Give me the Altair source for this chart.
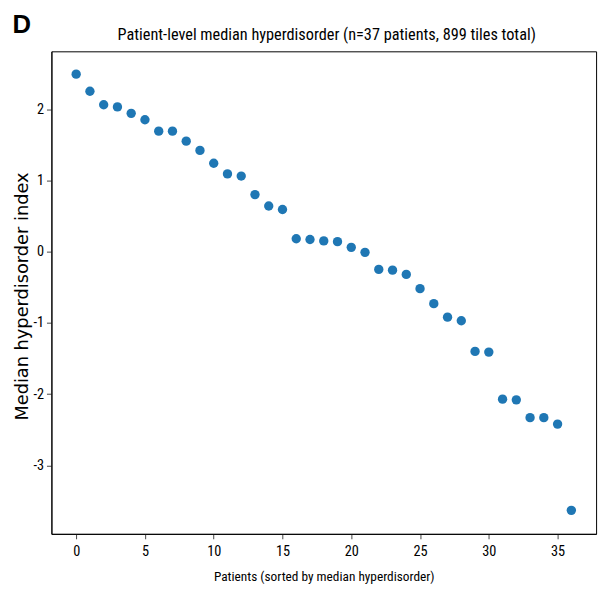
import altair as alt
import pandas as pd

patient_rank = list(range(37))
median_hyperdisorder = [
    2.49, 2.25, 2.06, 2.03, 1.94, 1.85, 1.69, 1.69, 1.55, 1.42,
    1.24, 1.09, 1.06, 0.80, 0.64, 0.59, 0.18, 0.17, 0.15, 0.14,
    0.06, -0.01, -0.25, -0.26, -0.32, -0.52, -0.73, -0.92, -0.97, -1.40,
    -1.41, -2.07, -2.08, -2.33, -2.33, -2.42, -3.63,
]
x_ticks = [0, 5, 10, 15, 20, 25, 30, 35]
y_ticks = [-3, -2, -1, 0, 1, 2]
title_text = "Patient-level median hyperdisorder (n=37 patients, 899 tiles total)"
x_title = "Patients (sorted by median hyperdisorder)"
y_title = "Median hyperdisorder index"
panel_label = "D"

df = pd.DataFrame({"rank": patient_rank, "value": median_hyperdisorder})

cond_font = "Roboto Condensed"

points = alt.Chart(df).mark_circle(size=90, opacity=1, color="#1f77b4").encode(
    x=alt.X("rank:Q",
            scale=alt.Scale(domain=[-1.8, 37.8], nice=False, zero=False),
            axis=alt.Axis(values=x_ticks, title=x_title, grid=False,
                          labelFont=cond_font, labelFontSize=14.5, labelColor="black",
                          titleFont=cond_font, titleFontSize=13.5, titleFontWeight="normal",
                          titleColor="black", titleY=47, titleBaseline="alphabetic",
                          tickColor="#444", tickSize=5, labelPadding=6,
                          domainColor="black")),
    y=alt.Y("value:Q",
            scale=alt.Scale(domain=[-3.96, 2.81], nice=False, zero=False),
            axis=alt.Axis(values=y_ticks, title=y_title, grid=False,
                          labelFont=cond_font, labelFontSize=14.5, labelColor="black",
                          labelExpr="replace(datum.label, '\u2212', '-')",
                          titleFont="DejaVu Sans", titleFontSize=18, titleFontWeight="normal",
                          titleColor="black", titleX=-20, titleY=248, titleAnchor="middle",
                          tickColor="#444", tickSize=5, labelPadding=3,
                          domainColor="black")),
)

label = alt.Chart(pd.DataFrame({"t": [panel_label]})).mark_text(
    font="Liberation Sans", fontSize=26, fontWeight="bold", color="black",
    align="center", baseline="middle"
).encode(x=alt.value(-30), y=alt.value(-27), text="t:N")

title = alt.Chart(pd.DataFrame({"t": [title_text]})).mark_text(
    font=cond_font, fontSize=16.5, color="black",
    align="center", baseline="alphabetic"
).encode(x=alt.value(279), y=alt.value(-11), text="t:N")

chart = alt.layer(points, label, title).properties(
    width=552, height=489,
    padding={"left": 44, "top": 40, "right": 7, "bottom": 53},
    autosize="none",
).configure_view(stroke="black", strokeWidth=1)

chart.save("out.html", embed_options={"renderer": "svg", "actions": False})
